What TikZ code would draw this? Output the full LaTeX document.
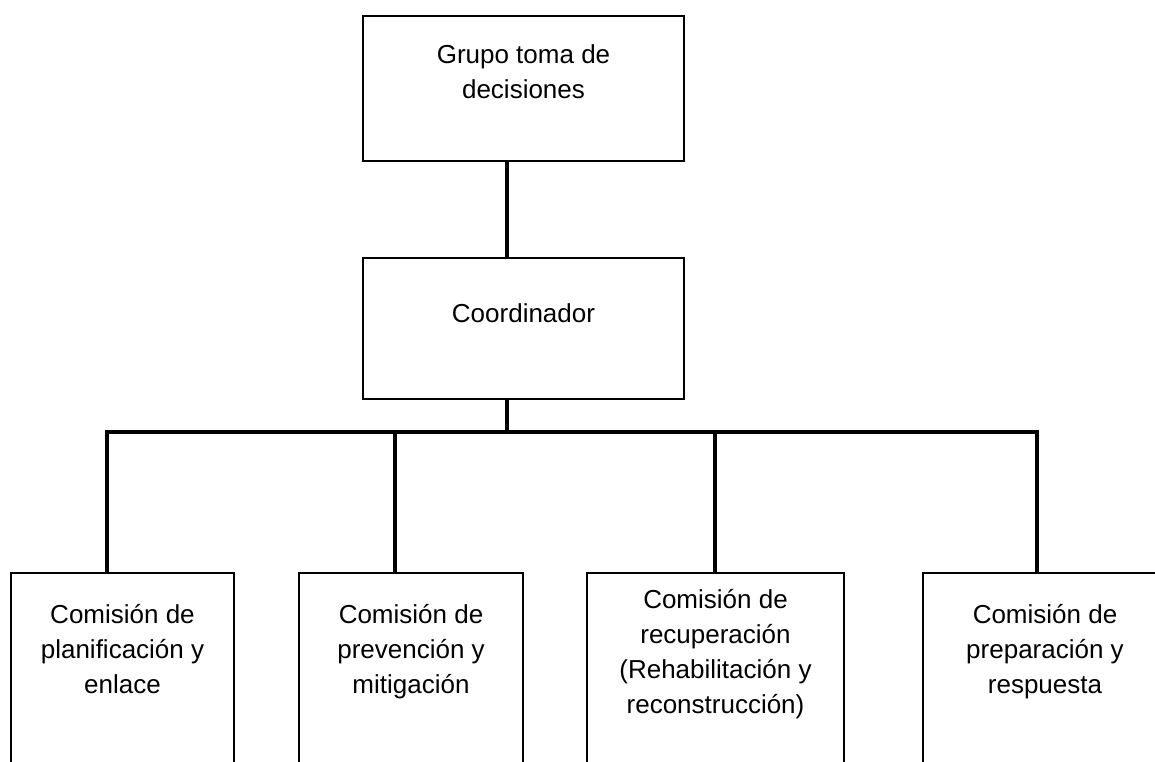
\documentclass[tikz,border=0pt]{standalone}
\usepackage{fontspec}
\setmainfont{Liberation Sans}
\usetikzlibrary{positioning}

\begin{document}
\begin{tikzpicture}[x=1pt,y=-1pt,
    box/.style={draw,line width=2pt,inner sep=0pt,anchor=north west},
    txt/.style={align=center,inner sep=0pt,font=\fontsize{26}{35}\selectfont},
    link/.style={line width=4.5pt}]
      \useasboundingbox (0,0) rectangle (1155,761);
      \clip (0,0) rectangle (1155,761);
      % upper levels
      \node[box,minimum width=321pt,minimum height=145pt] (grupo) at (362,15) {};
      \node[txt,below=29pt of grupo.north] (grupo-t) {Grupo toma de\\decisiones};
      \node[box,minimum width=321pt,minimum height=141pt] (coord) at (362,257) {};
      \node[txt,below=46pt of coord.north] (coord-t) {Coordinador};
      % comisiones
      \node[box,minimum width=223pt,minimum height=220pt] (planif) at (10,572) {};
      \node[txt,below=32pt of planif.north] (planif-t) {Comisión de\\planificación y\\enlace};
      \node[box,minimum width=224pt,minimum height=220pt] (prev) at (298,572) {};
      \node[txt,below=32pt of prev.north] (prev-t) {Comisión de\\prevención y\\mitigación};
      \node[box,minimum width=257pt,minimum height=220pt] (recup) at (586,572) {};
      \node[txt,below=17pt of recup.north] (recup-t) {Comisión de\\recuperación\\(Rehabilitación y\\reconstrucción)};
      \node[box,minimum width=244pt,minimum height=220pt] (prep) at (922,572) {};
      \node[txt,below=32pt of prep.north] (prep-t) {Comisión de\\preparación y\\respuesta};
      % lines
      \coordinate (stem) at (507,432);
      \coordinate (d1) at (107,432);
      \coordinate (d2) at (395,432);
      \coordinate (d3) at (715,432);
      \coordinate (d4) at (1037,432);
      \draw[link] (grupo.south -| stem) -- (coord.north -| stem);
      \draw[link] (coord.south -| stem) -- (stem);
      \draw[link] (planif.north -| d1) -- (d1) -- (d4) -- (prep.north -| d4);
      \draw[link] (d2) -- (prev.north -| d2);
      \draw[link] (d3) -- (recup.north -| d3);
    \end{tikzpicture}
\end{document}
